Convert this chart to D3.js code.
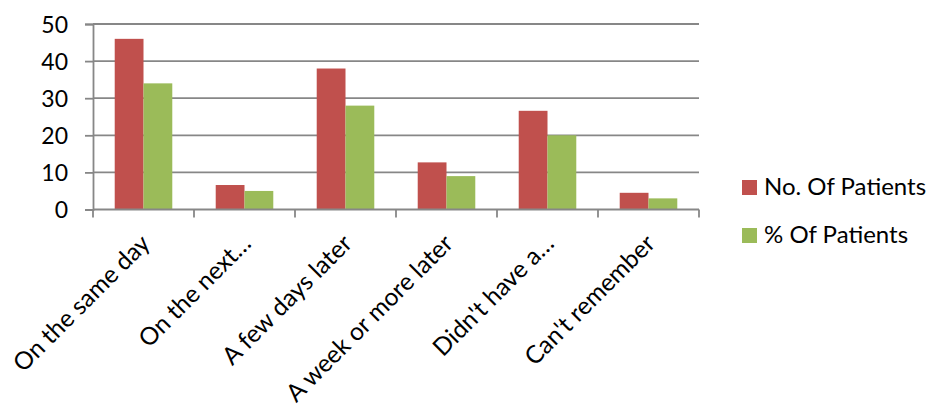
<!DOCTYPE html>
<html><head><meta charset="utf-8">
<script src="https://cdn.jsdelivr.net/npm/d3@7"></script>
<style>body{margin:0;background:#fff}svg{display:block}text{font-family:Lato,"Open Sans",sans-serif;fill:#000}</style>
</head><body>
<svg id="c" width="930" height="407"></svg>
<script>
const categories = ["On the same day","On the next…","A few days later","A week or more later","Didn't have a…","Can't remember"];
const seriesNames = ["No. Of Patients","% Of Patients"];
const noPatients = [46, 6.6, 38, 12.7, 26.6, 4.5];
const pctPatients = [34, 5, 28, 9, 20, 3];
const yTicks = [0,10,20,30,40,50];
const colors = ["#C0504D","#9BBB59"];

(function(){
const svg = d3.select("#c");
const pLeft = 93, pRight = 699, pTop = 24, pBottom = 209.5;
const x = d3.scaleBand().domain(categories).range([pLeft,pRight]).paddingInner(0.43).paddingOuter(0.215);
const x1 = d3.scaleBand().domain(seriesNames).range([0,x.bandwidth()]);
const y = d3.scaleLinear().domain([0,50]).range([pBottom,pTop]);
const grid = "#878787";

svg.append("g").selectAll("line").data(yTicks.filter(d=>d>0)).join("line")
  .attr("x1",pLeft).attr("x2",pRight).attr("y1",d=>y(d)).attr("y2",d=>y(d))
  .attr("stroke",grid).attr("stroke-width",1.8);

const series = [noPatients,pctPatients];
const rows = categories.map((c,i)=>({c, vals: series.map((s,j)=>({name:seriesNames[j], v:s[i], j}))}));
svg.append("g").selectAll("g").data(rows).join("g")
  .attr("transform",d=>`translate(${x(d.c)},0)`)
  .selectAll("rect").data(d=>d.vals).join("rect")
  .attr("x",d=>x1(d.name)).attr("width",x1.bandwidth())
  .attr("y",d=>y(d.v)).attr("height",d=>y(0)-y(d.v))
  .attr("fill",d=>colors[d.j]);

const ya = svg.append("g").attr("transform",`translate(${pLeft},0)`)
  .call(d3.axisLeft(y).tickValues(yTicks).tickSize(8).tickPadding(17).tickFormat(d3.format("d")));
ya.select(".domain").attr("stroke",grid).attr("stroke-width",1.8);
ya.selectAll(".tick line").attr("stroke",grid).attr("stroke-width",1.8);
ya.selectAll(".tick text").style("font-size","23px").style("font-family","Lato").attr("dy","0.36em");

const xEdges = d3.range(categories.length+1).map(i=>pLeft + i*(pRight-pLeft)/categories.length);
svg.append("line").attr("x1",pLeft).attr("x2",pRight).attr("y1",pBottom).attr("y2",pBottom).attr("stroke",grid).attr("stroke-width",1.8);
svg.append("g").selectAll("line").data(xEdges).join("line")
  .attr("x1",d=>d).attr("x2",d=>d).attr("y1",pBottom).attr("y2",pBottom+8)
  .attr("stroke",grid).attr("stroke-width",1.8);
svg.append("g").selectAll("text").data(categories).join("text")
  .attr("text-anchor","end")
  .attr("transform",d=>`translate(${x(d)+x.bandwidth()/2+8},245) rotate(-45)`)
  .style("font-size","24.5px")
  .text(d=>d);

const lg = svg.append("g").selectAll("g").data(seriesNames).join("g")
  .attr("transform",(d,i)=>`translate(742,${180+i*48})`);
lg.append("rect").attr("width",15).attr("height",15).attr("fill",(d,i)=>colors[i]);
lg.append("text").attr("x",22).attr("y",14.5).style("font-size","24px").text(d=>d);
})();
</script>
</body></html>
